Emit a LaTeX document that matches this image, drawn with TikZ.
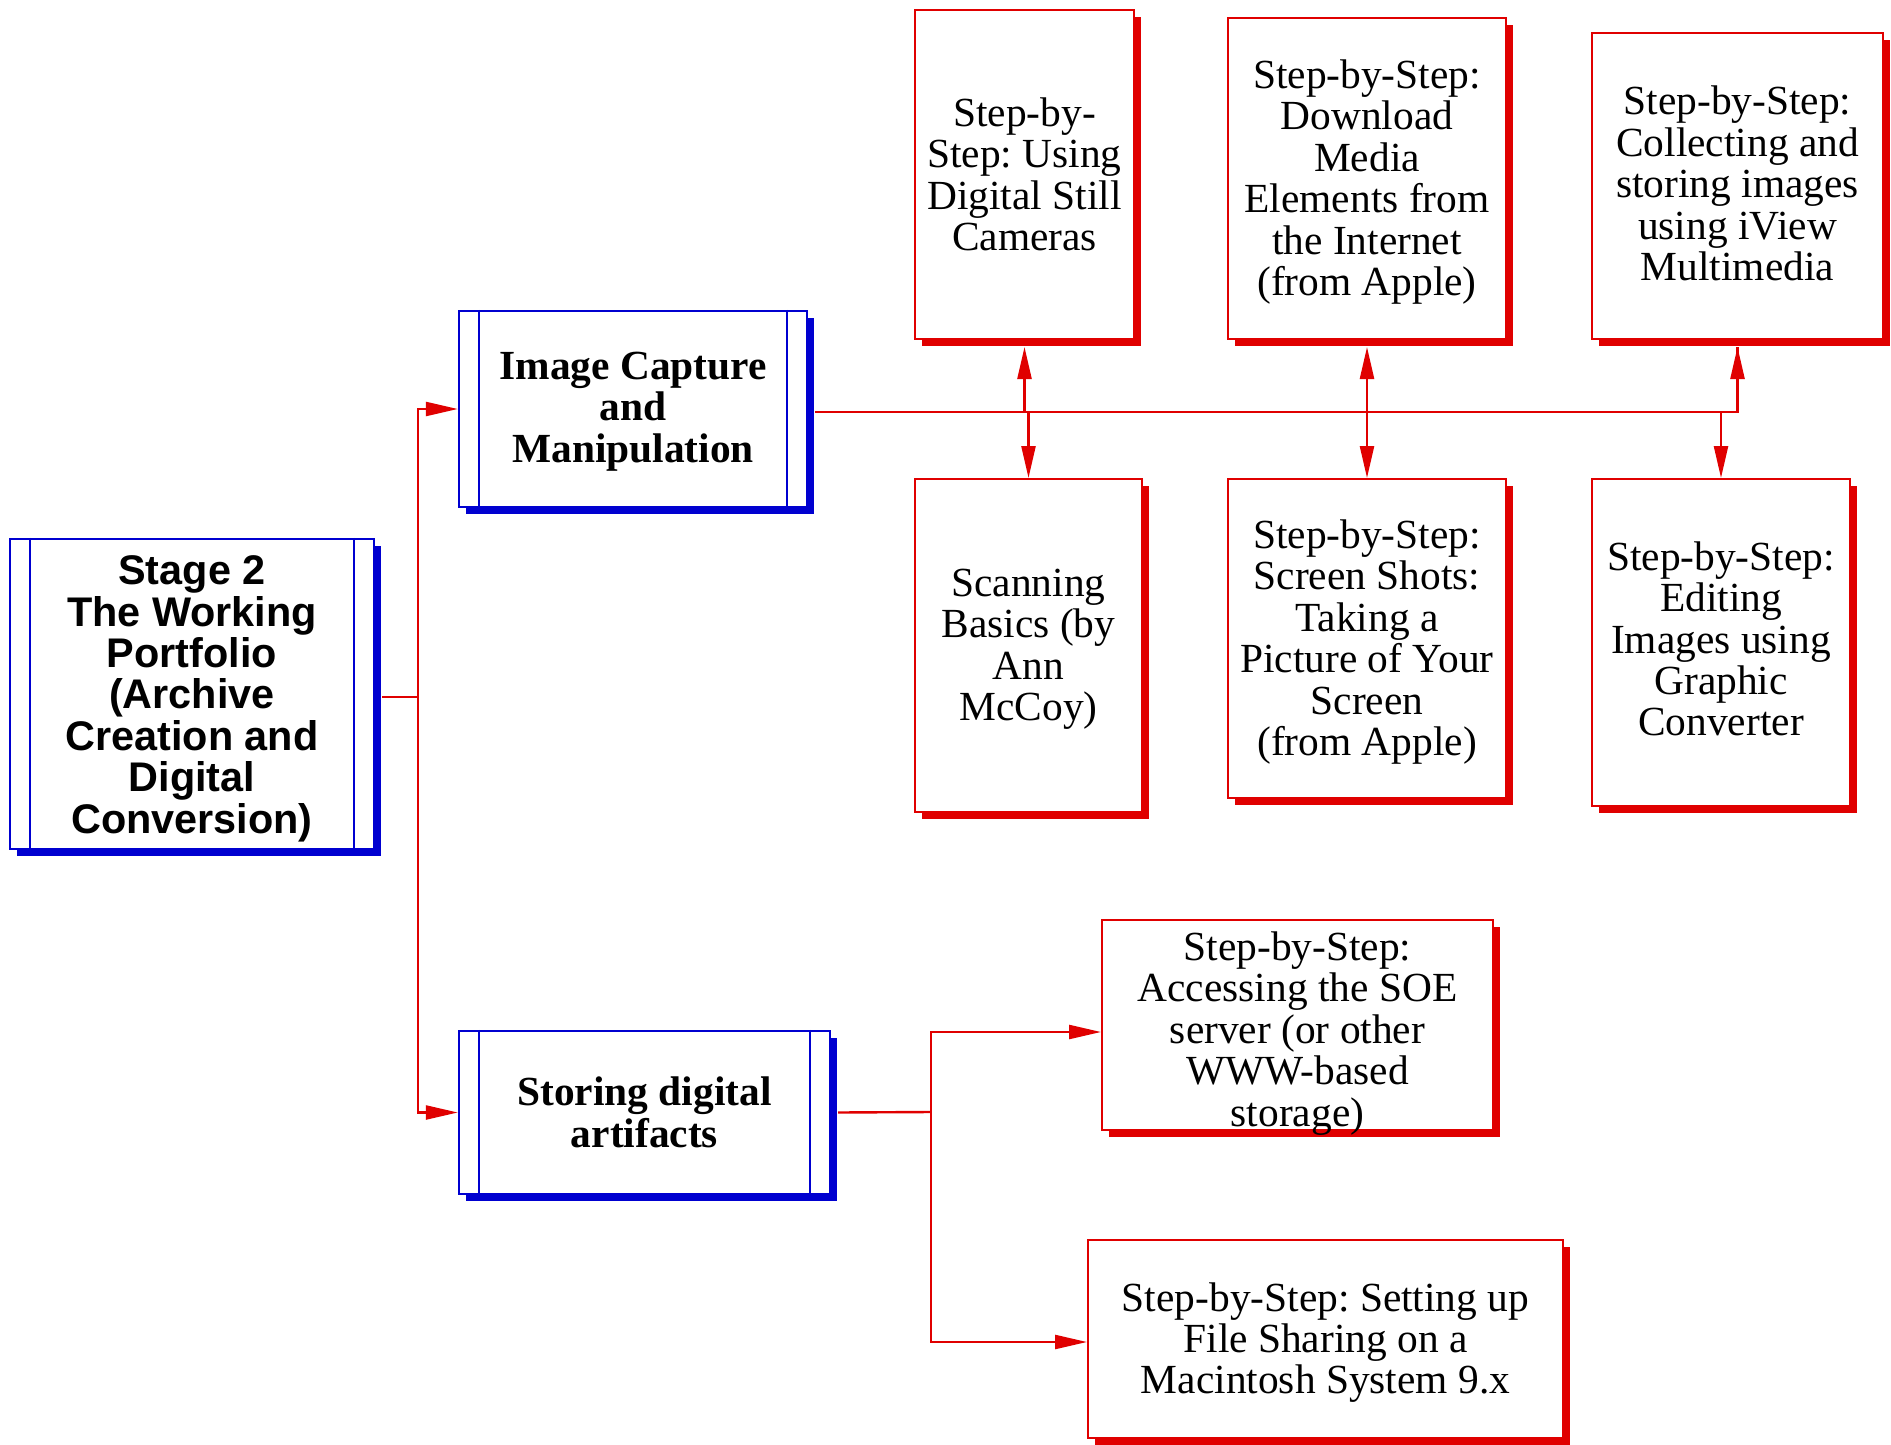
\documentclass[tikz,border=0pt]{standalone}
\usepackage{fontspec}
\setmainfont{Liberation Serif}
\setsansfont{Liberation Sans}
\usetikzlibrary{arrows.meta,shadows}
\definecolor{redc}{RGB}{224,0,0}
\definecolor{bluec}{RGB}{0,0,208}
\frenchspacing
\tikzset{
  basefont/.style={font=\fontsize{20.7}{20.7}\selectfont},
  redbox/.style={draw=redc, line width=1pt, fill=white, inner sep=0pt,
    general shadow={fill=redc, shadow xshift=3.5pt, shadow yshift=-3.5pt}},
  bluebox/.style={draw=bluec, line width=1.2pt, fill=white, inner sep=0pt,
    general shadow={fill=bluec, shadow xshift=3.5pt, shadow yshift=-3.5pt}},
  txt/.style={inner sep=0pt, align=center, basefont},
  bar/.style={draw=bluec, line width=1pt},
  conn/.style={draw=redc, line width=1.2pt},
  arr/.style={conn, -{Triangle[length=16pt,width=7pt]}},
}
\begin{document}
\begin{tikzpicture}[x=0.5pt,y=-0.5pt]
\fill[white] (0,0) rectangle (1891,1445);
\useasboundingbox (0,0) rectangle (1891,1445);

% blue boxes
\node[bluebox, minimum width=182pt, minimum height=155pt] (s2) at (192,694) {};
\node[bluebox, minimum width=174pt, minimum height=98pt] (ic) at (633,409) {};
\node[bluebox, minimum width=185.5pt, minimum height=81.5pt] (st) at (644.5,1112.5) {};
\foreach \n in {s2,ic,st} {
  \draw[bar] ([xshift=10.5pt]\n.north west) -- ([xshift=10.5pt]\n.south west);
  \draw[bar] ([xshift=-10.5pt]\n.north east) -- ([xshift=-10.5pt]\n.south east);
}
\node[txt, font=\fontsize{20.7}{20.7}\selectfont\sffamily\bfseries] (s2t) at ([yshift=-2.4pt]s2.center)
  {Stage 2\\The Working\\Portfolio\\(Archive\\Creation and\\Digital\\Conversion)};
\node[txt, font=\fontsize{20.7}{20.7}\selectfont\bfseries] (ict) at ([yshift=-1.2pt]ic.center)
  {Image Capture\\and\\Manipulation};
\node[txt, font=\fontsize{20.7}{20.7}\selectfont\bfseries] (stt) at (st.center)
  {Storing digital\\artifacts};

% red boxes, top row
\node[redbox, minimum width=109.5pt, minimum height=164.5pt] (cam) at (1024.5,174.5) {};
\node[redbox, minimum width=139pt, minimum height=160.5pt] (dl) at (1367,178.5) {};
\node[redbox, minimum width=145.5pt, minimum height=153pt] (col) at (1737.5,186) {};
% red boxes, second row
\node[redbox, minimum width=113.5pt, minimum height=166.5pt] (scan) at (1028.5,645.5) {};
\node[redbox, minimum width=139pt, minimum height=159.5pt] (scr) at (1367,638.5) {};
\node[redbox, minimum width=129pt, minimum height=163.5pt] (ed) at (1721,642.5) {};
% red boxes, storage
\node[redbox, minimum width=195.5pt, minimum height=105pt] (soe) at (1297.5,1025) {};
\node[redbox, minimum width=237.5pt, minimum height=99pt] (fs) at (1325.5,1339) {};

\node[txt] (camt) at (cam.center)
  {Step-by-\\Step: Using\\Digital Still\\Cameras};
\node[txt] (dlt) at ([yshift=-1.8pt]dl.center)
  {Step-by-Step:\\Download\\Media\\Elements from\\the Internet\\(from Apple)};
\node[txt] (colt) at ([yshift=1.2pt]col.center)
  {Step-by-Step:\\Collecting and\\storing images\\using iView\\Multimedia};
\node[txt] (scant) at ([yshift=-1.8pt]scan.center)
  {Scanning\\Basics (by\\Ann\\McCoy)};
\node[txt] (scrt) at ([yshift=-1.8pt]scr.center)
  {Step-by-Step:\\Screen Shots:\\Taking a\\Picture of Your\\Screen\\(from Apple)};
\node[txt] (edt) at ([yshift=1.8pt]ed.center)
  {Step-by-Step:\\Editing\\Images using\\Graphic\\Converter};
\node[txt] (soet) at ([yshift=-4.2pt]soe.center)
  {Step-by-Step:\\Accessing the SOE\\server (or other\\WWW-based\\storage)};
\node[txt] (fst) at ([yshift=-1.8pt]fs.center)
  {Step-by-Step: Setting up\\File Sharing on a\\Macintosh System 9.x};

% connectors from Stage 2
\coordinate (j1) at (418,697);
\draw[conn] ([xshift=3.5pt,yshift=-1.5pt]s2.east) -- (j1);
\draw[arr] (j1) |- (ic.west);
\draw[arr] (j1) |- (st.west);

% connectors from Image Capture
\coordinate (icout) at ([xshift=3.5pt,yshift=-1.5pt]ic.east);
\draw[conn] (icout) -| ([yshift=-3.5pt]col.south);
\draw[arr] (icout -| col.south) -- ([yshift=-3.5pt]col.south);
\draw[arr] (icout -| cam.south) -- ([yshift=-3.5pt]cam.south);
\draw[arr] (icout -| scan.north) -- (scan.north);
\draw[arr] (icout -| dl.south) -- ([yshift=-3.5pt]dl.south);
\draw[arr] (icout -| scr.north) -- (scr.north);
\draw[arr] (icout -| ed.north) -- (ed.north);

% connectors from Storing
\coordinate (j2) at (931,1112);
\draw[conn] ([xshift=3.5pt]st.east) -- (j2);
\draw[arr] (j2) |- ([yshift=-3.5pt]soe.west);
\draw[arr] (j2) |- ([yshift=-1.5pt]fs.west);
\end{tikzpicture}
\end{document}
